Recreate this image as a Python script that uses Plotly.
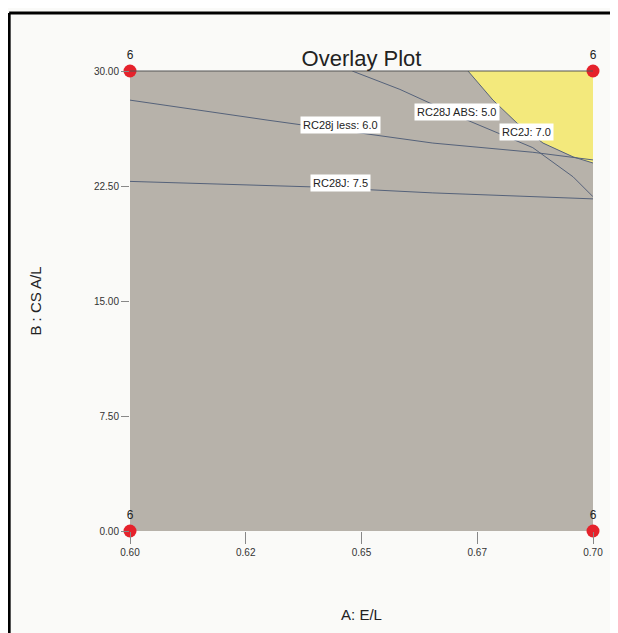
import plotly.graph_objects as go

# corner design points (value shown above each)
pt_x = [0.60, 0.70, 0.60, 0.70]
pt_y = [30.0, 30.0, 0.0, 0.0]
pt_lbl = ["6", "6", "6", "6"]

# contour lines
less6_x = [0.600, 0.6296, 0.6654, 0.687, 0.700]
less6_y = [28.1, 26.8, 25.3, 24.7, 24.2]

rc28j_x = [0.600, 0.6395, 0.6654, 0.700]
rc28j_y = [22.8, 22.44, 22.05, 21.66]

abs5_x = [0.648, 0.6583, 0.6728, 0.687, 0.6957, 0.700]
abs5_y = [30.0, 28.8, 26.8, 25.0, 23.1, 21.8]

rc2j_x = [0.673, 0.6784, 0.6836, 0.6892, 0.6957, 0.700]
rc2j_y = [30.0, 28.1, 26.6, 25.3, 24.4, 24.0]

# contour labels
lab_text = ["RC28j less: 6.0", "RC28J ABS: 5.0", "RC2J: 7.0", "RC28J: 7.5"]
lab_x = [0.6454, 0.6706, 0.6857, 0.6454]
lab_y = [26.5, 27.3, 26.0, 22.7]

x_ticks = [0.60, 0.625, 0.65, 0.675, 0.70]
x_ticktext = ["0.60", "0.62", "0.65", "0.67", "0.70"]
y_ticks = [0.0, 7.5, 15.0, 22.5, 30.0]
y_ticktext = ["0.00", "7.50", "15.00", "22.50", "30.00"]

line_col = "#55627a"
fnt = "Liberation Sans, Arial, sans-serif"

fig = go.Figure()

# yellow feasible region: bounded by RC2J curve, top edge and right edge
fig.add_trace(go.Scatter(
    x=rc2j_x + [rc2j_x[-1], rc2j_x[0]],
    y=rc2j_y + [pt_y[0], pt_y[0]],
    fill="toself", fillcolor="#f3e97c", mode="none",
    hoverinfo="skip", showlegend=False
))

for xs, ys in [(less6_x, less6_y), (rc28j_x, rc28j_y), (abs5_x, abs5_y), (rc2j_x, rc2j_y)]:
    fig.add_trace(go.Scatter(
        x=xs, y=ys, mode="lines",
        line=dict(color=line_col, width=1),
        hoverinfo="skip", showlegend=False
    ))

fig.add_trace(go.Scatter(
    x=pt_x, y=pt_y, mode="markers+text",
    text=pt_lbl, textposition="top center",
    textfont=dict(family=fnt, size=12, color="#222"),
    marker=dict(color="#e5222b", size=13),
    cliponaxis=False, showlegend=False
))

for t, lx, ly in zip(lab_text, lab_x, lab_y):
    fig.add_annotation(
        x=lx, y=ly, text=t, showarrow=False,
        font=dict(family=fnt, size=11, color="#222"),
        bgcolor="white", borderpad=2
    )

# page frame (left and top edges of the scanned box)
fig.add_shape(type="line", xref="paper", yref="paper", x0=-0.261, x1=-0.261, y0=1.126, y1=-0.25,
              line=dict(color="black", width=3))
fig.add_shape(type="line", xref="paper", yref="paper", x0=-0.261, x1=1.06, y0=1.126, y1=1.126,
              line=dict(color="black", width=3))
# dark edge along top of plot
fig.add_shape(type="line", xref="paper", yref="paper", x0=0, x1=1, y0=1, y1=1,
              line=dict(color="#555", width=1))

fig.update_layout(
    width=618, height=633,
    margin=dict(l=122, r=33, t=63, b=110),
    paper_bgcolor="#fafaf8",
    plot_bgcolor="#b7b2aa",
    title=dict(text="Overlay Plot", x=0.5, xref="paper", y=1, yref="paper",
               yanchor="bottom", pad=dict(b=5),
               font=dict(family=fnt, size=22, color="#222")),
    xaxis=dict(
        range=[0.6, 0.7], tickvals=x_ticks, ticktext=x_ticktext,
        ticks="outside", ticklen=12, tickcolor="#888", showgrid=False, zeroline=False,
        tickfont=dict(family=fnt, size=10, color="#333"),
        title=dict(text="A: E/L", font=dict(family=fnt, size=15, color="#222"), standoff=52)
    ),
    yaxis=dict(
        range=[0, 30], tickvals=y_ticks, ticktext=y_ticktext,
        ticks="outside", ticklen=8, tickcolor="#888", showgrid=False, zeroline=False,
        tickfont=dict(family=fnt, size=10, color="#333"),
        title=dict(text="B : CS A/L", font=dict(family=fnt, size=15, color="#222"), standoff=48)
    ),
)

fig.write_html("out.html")
